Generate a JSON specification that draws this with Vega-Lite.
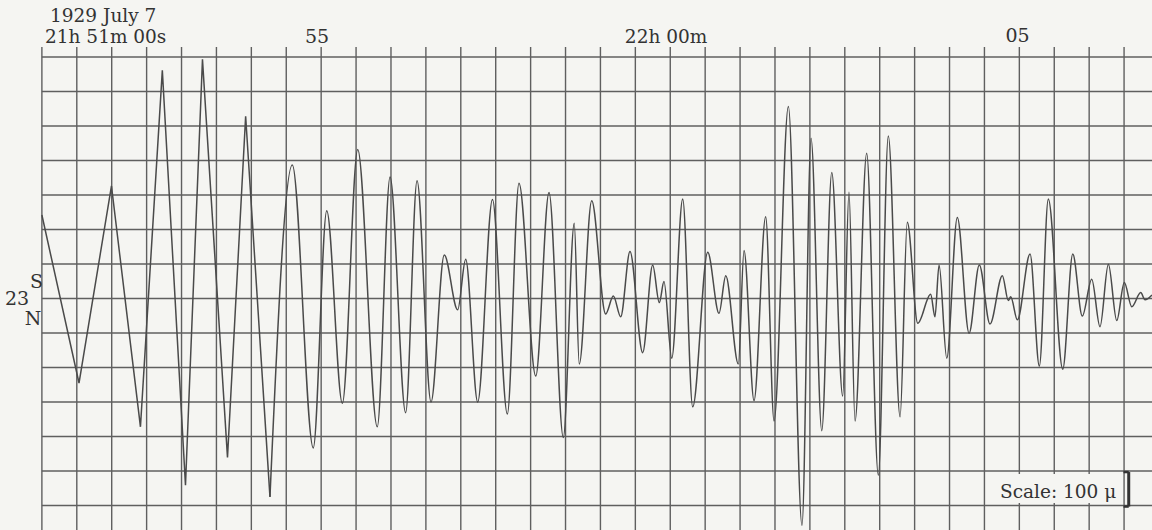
{
  "$schema": "https://vega.github.io/schema/vega-lite/v6.json",
  "width": 1152,
  "height": 530,
  "autosize": {"type": "fit", "contains": "padding"},
  "padding": 0,
  "background": "#f5f5f2",
  "config": {"view": {"stroke": null}},
  "datasets": {
    "trace": [
      {"t": 0, "v": 242}, {"t": 31.9, "v": -245}, {"t": 59.8, "v": 326}, {"t": 84.7, "v": -372},
      {"t": 103.5, "v": 661}, {"t": 123.4, "v": -541}, {"t": 138.0, "v": 693}, {"t": 159.5, "v": -461},
      {"t": 175.1, "v": 528}, {"t": 196.0, "v": -575}, {"t": 215.2, "v": 387}, {"t": 233.2, "v": -433},
      {"t": 244.8, "v": 254}, {"t": 258.2, "v": -304}, {"t": 271.4, "v": 432}, {"t": 288.2, "v": -372},
      {"t": 299.2, "v": 352}, {"t": 312.6, "v": -331}, {"t": 322.4, "v": 341}, {"t": 334.4, "v": -300},
      {"t": 345.8, "v": 126}, {"t": 357.3, "v": -33}, {"t": 364.2, "v": 114}, {"t": 374.5, "v": -300},
      {"t": 387.2, "v": 287}, {"t": 400.0, "v": -335}, {"t": 410.0, "v": 334}, {"t": 424.4, "v": -225},
      {"t": 435.8, "v": 307}, {"t": 448.1, "v": -403}, {"t": 457.5, "v": 218}, {"t": 461.8, "v": -190},
      {"t": 472.5, "v": 283}, {"t": 484.5, "v": -45}, {"t": 491.1, "v": 7}, {"t": 497.4, "v": -53},
      {"t": 505.4, "v": 136}, {"t": 516.3, "v": -157}, {"t": 524.9, "v": 97}, {"t": 530.6, "v": -12},
      {"t": 534.6, "v": 49}, {"t": 541.3, "v": -173}, {"t": 550.7, "v": 288}, {"t": 559.3, "v": -314},
      {"t": 572.2, "v": 134}, {"t": 581.9, "v": -43}, {"t": 587.7, "v": 66}, {"t": 598.5, "v": -190},
      {"t": 603.4, "v": 139}, {"t": 612.0, "v": -296}, {"t": 622.0, "v": 237}, {"t": 629.2, "v": -355},
      {"t": 641.5, "v": 556}, {"t": 653.2, "v": -657}, {"t": 661.0, "v": 464}, {"t": 670.2, "v": -383},
      {"t": 678.8, "v": 365}, {"t": 688.2, "v": -283}, {"t": 693.6, "v": 308}, {"t": 698.8, "v": -355},
      {"t": 708.8, "v": 421}, {"t": 718.8, "v": -512}, {"t": 727.4, "v": 471}, {"t": 737.5, "v": -343},
      {"t": 743.7, "v": 221}, {"t": 752.7, "v": -72}, {"t": 763.8, "v": 12}, {"t": 767.5, "v": -53},
      {"t": 771.0, "v": 97}, {"t": 777.6, "v": -173}, {"t": 786.7, "v": 235}, {"t": 796.8, "v": -101},
      {"t": 805.6, "v": 97}, {"t": 814.8, "v": -74}, {"t": 825.4, "v": 66}, {"t": 830.5, "v": -6},
      {"t": 832.6, "v": 5}, {"t": 838.3, "v": -62}, {"t": 849.2, "v": 129}, {"t": 857.2, "v": -196},
      {"t": 864.9, "v": 288}, {"t": 877.3, "v": -205}, {"t": 885.9, "v": 129}, {"t": 894.1, "v": -51},
      {"t": 902.2, "v": 56}, {"t": 909.3, "v": -82}, {"t": 916.5, "v": 99}, {"t": 923.7, "v": -64},
      {"t": 930.2, "v": 46}, {"t": 936.6, "v": -24}, {"t": 944.3, "v": 17}, {"t": 948.0, "v": -4},
      {"t": 954, "v": 10}
    ],
    "vgrid": [
      {"t": 0}, {"t": 30}, {"t": 60}, {"t": 90}, {"t": 120}, {"t": 150}, {"t": 180}, {"t": 210},
      {"t": 240}, {"t": 270}, {"t": 300}, {"t": 330}, {"t": 360}, {"t": 390}, {"t": 420}, {"t": 450},
      {"t": 480}, {"t": 510}, {"t": 540}, {"t": 570}, {"t": 600}, {"t": 630}, {"t": 660}, {"t": 690},
      {"t": 720}, {"t": 750}, {"t": 780}, {"t": 810}, {"t": 840}, {"t": 870}, {"t": 900}, {"t": 930}
    ],
    "hgrid": [
      {"v": 700}, {"v": 600}, {"v": 500}, {"v": 400}, {"v": 300}, {"v": 200}, {"v": 100},
      {"v": 0}, {"v": -100}, {"v": -200}, {"v": -300}, {"v": -400}, {"v": -500}, {"v": -600}
    ],
    "leftLabels": [
      {"t": 7.0, "v": 801, "label": "1929 July 7"},
      {"t": 2.7, "v": 741, "label": "21h 51m 00s"},
      {"t": 501.0, "v": 741, "label": "22h 00m"},
      {"t": 823.4, "v": -578, "label": "Scale: 100 μ"}
    ],
    "centerLabels": [
      {"t": 236.4, "v": 741, "label": "55"},
      {"t": 838.4, "v": 743, "label": "05"},
      {"t": -4.6, "v": 30, "label": "S"},
      {"t": -21.4, "v": -19, "label": "23"},
      {"t": -7.6, "v": -77, "label": "N"}
    ],
    "scaleBox": [{"t": 819.0, "t2": 927.0, "v": -509, "v2": -593}],
    "bracket": [{"t": 934.0, "v": -503, "v2": -603}],
    "bracketEnds": [{"t": 929.5, "t2": 934.0, "v": -503}, {"t": 929.5, "t2": 934.0, "v": -603}]
  },
  "layer": [
    {
      "data": {"name": "vgrid"},
      "mark": {"type": "rule", "color": "#5f5f5f", "strokeWidth": 1.4, "clip": true},
      "encoding": {
        "x": {"field": "t", "type": "quantitative", "scale": {"domain": [-36, 954], "nice": false, "zero": false}, "axis": null},
        "y": {"datum": 729, "type": "quantitative", "scale": {"domain": [-671, 865], "nice": false, "zero": false}, "axis": null},
        "y2": {"datum": -700}
      }
    },
    {
      "data": {"name": "hgrid"},
      "mark": {"type": "rule", "color": "#5f5f5f", "strokeWidth": 1.4, "clip": true},
      "encoding": {
        "y": {"field": "v", "type": "quantitative", "scale": {"domain": [-671, 865], "nice": false, "zero": false}, "axis": null},
        "x": {"datum": 0, "type": "quantitative", "scale": {"domain": [-36, 954], "nice": false, "zero": false}, "axis": null},
        "x2": {"datum": 960}
      }
    },
    {
      "data": {"name": "trace"},
      "transform": [{"filter": "datum.t <= 196"}],
      "mark": {"type": "line", "color": "#4a4a4a", "strokeWidth": 1.5, "interpolate": "linear", "clip": true},
      "encoding": {
        "x": {"field": "t", "type": "quantitative", "sort": null, "scale": {"domain": [-36, 954], "nice": false, "zero": false}, "axis": null},
        "y": {"field": "v", "type": "quantitative", "scale": {"domain": [-671, 865], "nice": false, "zero": false}, "axis": null}
      }
    },
    {
      "data": {"name": "trace"},
      "transform": [{"filter": "datum.t >= 196"}],
      "mark": {"type": "line", "color": "#4a4a4a", "strokeWidth": 1.5, "interpolate": "monotone", "clip": true},
      "encoding": {
        "x": {"field": "t", "type": "quantitative", "sort": null, "scale": {"domain": [-36, 954], "nice": false, "zero": false}, "axis": null},
        "y": {"field": "v", "type": "quantitative", "scale": {"domain": [-671, 865], "nice": false, "zero": false}, "axis": null}
      }
    },
    {
      "data": {"name": "scaleBox"},
      "mark": {"type": "rect", "color": "#f5f5f2", "opacity": 1},
      "encoding": {
        "x": {"field": "t", "type": "quantitative", "scale": {"domain": [-36, 954], "nice": false, "zero": false}, "axis": null},
        "x2": {"field": "t2"},
        "y": {"field": "v", "type": "quantitative", "scale": {"domain": [-671, 865], "nice": false, "zero": false}, "axis": null},
        "y2": {"field": "v2"}
      }
    },
    {
      "data": {"name": "bracket"},
      "mark": {"type": "rule", "color": "#333333", "strokeWidth": 3},
      "encoding": {
        "x": {"field": "t", "type": "quantitative", "scale": {"domain": [-36, 954], "nice": false, "zero": false}, "axis": null},
        "y": {"field": "v", "type": "quantitative", "scale": {"domain": [-671, 865], "nice": false, "zero": false}, "axis": null},
        "y2": {"field": "v2"}
      }
    },
    {
      "data": {"name": "bracketEnds"},
      "mark": {"type": "rule", "color": "#333333", "strokeWidth": 2.5},
      "encoding": {
        "x": {"field": "t", "type": "quantitative", "scale": {"domain": [-36, 954], "nice": false, "zero": false}, "axis": null},
        "x2": {"field": "t2"},
        "y": {"field": "v", "type": "quantitative", "scale": {"domain": [-671, 865], "nice": false, "zero": false}, "axis": null}
      }
    },
    {
      "data": {"name": "leftLabels"},
      "mark": {"type": "text", "align": "left", "baseline": "alphabetic", "font": "DejaVu Serif", "fontSize": 18.5, "color": "#333333"},
      "encoding": {
        "x": {"field": "t", "type": "quantitative", "scale": {"domain": [-36, 954], "nice": false, "zero": false}, "axis": null},
        "y": {"field": "v", "type": "quantitative", "scale": {"domain": [-671, 865], "nice": false, "zero": false}, "axis": null},
        "text": {"field": "label"}
      }
    },
    {
      "data": {"name": "centerLabels"},
      "mark": {"type": "text", "align": "center", "baseline": "alphabetic", "font": "DejaVu Serif", "fontSize": 19, "color": "#333333"},
      "encoding": {
        "x": {"field": "t", "type": "quantitative", "scale": {"domain": [-36, 954], "nice": false, "zero": false}, "axis": null},
        "y": {"field": "v", "type": "quantitative", "scale": {"domain": [-671, 865], "nice": false, "zero": false}, "axis": null},
        "text": {"field": "label"}
      }
    }
  ]
}
